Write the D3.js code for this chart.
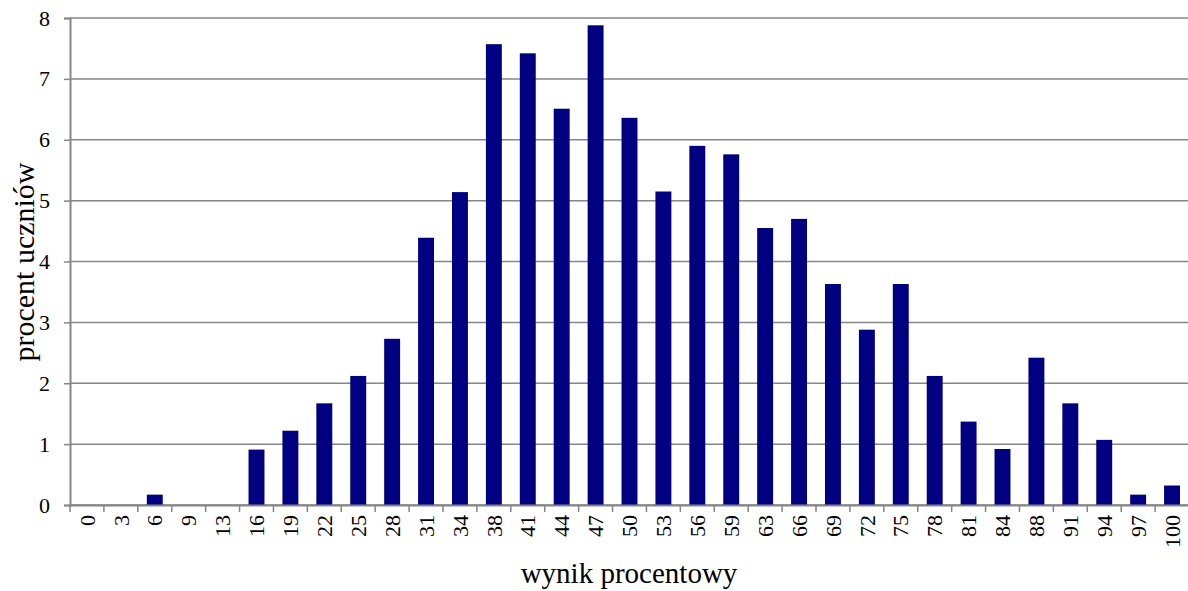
<!DOCTYPE html>
<html>
<head>
<meta charset="utf-8">
<script src="https://cdn.jsdelivr.net/npm/d3@7"></script>
<style>
  body { margin: 0; background: #fff; }
  svg { display: block; font-family: 'Liberation Serif', 'DejaVu Serif', serif; }
</style>
</head>
<body>
<svg id="chart"></svg>
<script>
const width = 1188
const height = 591

// wynik procentowy (kategorie osi X)
const categories = ['0', '3', '6', '9', '13', '16', '19', '22', '25', '28', '31', '34',
  '38', '41', '44', '47', '50', '53', '56', '59', '63', '66', '69', '72', '75', '78',
  '81', '84', '88', '91', '94', '97', '100']

// procent uczniów
const values = [0, 0, 0.17, 0, 0, 0.91, 1.22, 1.67, 2.12, 2.73, 4.39, 5.14,
  7.57, 7.42, 6.51, 7.88, 6.36, 5.15, 5.90, 5.76, 4.55, 4.70, 3.63, 2.88, 3.63, 2.12,
  1.37, 0.92, 2.42, 1.67, 1.07, 0.17, 0.32]

const yTicks = [0, 1, 2, 3, 4, 5, 6, 7, 8]

const margin = {top: 18, right: -1, bottom: 86, left: 70}
const innerW = width - margin.left - margin.right
const innerH = height - margin.top - margin.bottom

const svg = d3.select('#chart')
  .attr('width', width)
  .attr('height', height)

const g = svg.append('g')
  .attr('transform', `translate(${margin.left},${margin.top})`)

const x = d3.scaleBand()
  .domain(categories)
  .range([0, innerW])
  .paddingInner(0.53)
  .paddingOuter(0.265)

const y = d3.scaleLinear()
  .domain([0, 8])
  .range([innerH, 0])

// linie siatki
g.append('g')
  .selectAll('line')
  .data(yTicks)
  .join('line')
  .attr('x1', 0)
  .attr('x2', innerW)
  .attr('y1', d => y(d))
  .attr('y2', d => y(d))
  .attr('stroke', '#868686')
  .attr('stroke-width', 1.5)

// słupki
g.append('g')
  .selectAll('rect')
  .data(values)
  .join('rect')
  .attr('x', (d, i) => x(categories[i]))
  .attr('y', d => y(d))
  .attr('width', x.bandwidth())
  .attr('height', d => innerH - y(d))
  .attr('fill', '#000080')

// oś Y
const yAxis = g.append('g')
  .call(d3.axisLeft(y).tickValues(yTicks).tickSize(6).tickPadding(14))
yAxis.selectAll('text')
  .attr('font-size', 22)
  .attr('fill', '#000')
  .attr('font-family', 'Liberation Serif')

// oś X
const step = x.step()
const xAxis = g.append('g')
  .attr('transform', `translate(0,${innerH})`)
  .call(d3.axisBottom(x).tickSize(0).tickPadding(0))
xAxis.selectAll('.tick text')
  .attr('font-size', 22)
  .attr('fill', '#000')
  .attr('font-family', 'Liberation Serif')
  .attr('transform', 'rotate(-90)')
  .attr('text-anchor', 'end')
  .attr('x', -10)
  .attr('y', 0)
  .attr('dy', '0.35em')

// podziałki między kategoriami
g.append('g')
  .selectAll('line')
  .data(d3.range(categories.length + 1))
  .join('line')
  .attr('x1', d => d * step)
  .attr('x2', d => d * step)
  .attr('y1', innerH)
  .attr('y2', innerH + 7)
  .attr('stroke', '#868686')
  .attr('stroke-width', 1.5)

g.selectAll('.domain')
  .attr('stroke', '#868686')
  .attr('stroke-width', 2)
yAxis.selectAll('.tick line')
  .attr('stroke', '#868686')
  .attr('stroke-width', 1.5)

// tytuły osi
svg.append('text')
  .attr('x', 629)
  .attr('y', 583)
  .attr('text-anchor', 'middle')
  .attr('font-size', 29)
  .attr('fill', '#000')
  .text('wynik procentowy')

svg.append('text')
  .attr('transform', 'translate(34,262) rotate(-90)')
  .attr('text-anchor', 'middle')
  .attr('font-size', 30)
  .attr('fill', '#000')
  .text('procent uczniów')
</script>
</body>
</html>
